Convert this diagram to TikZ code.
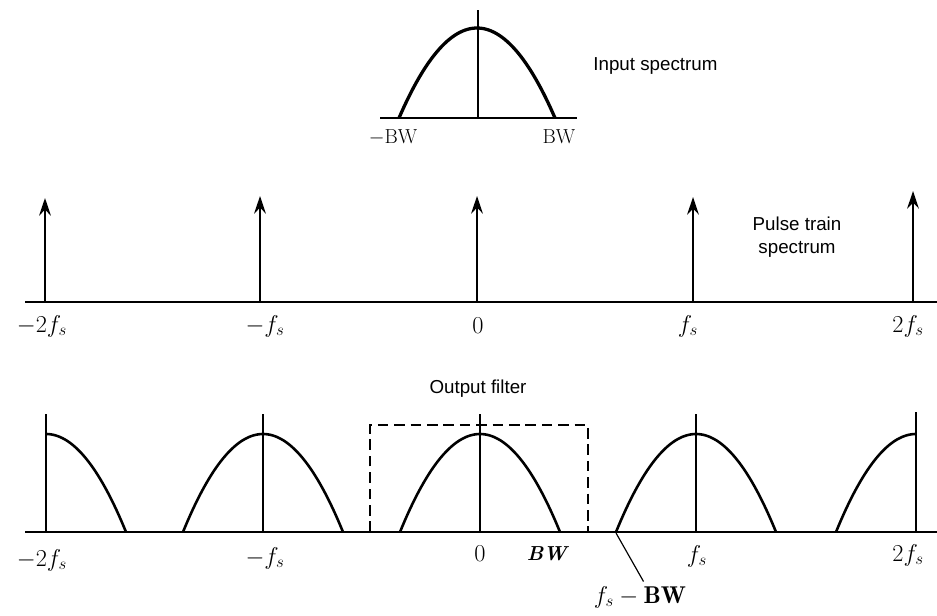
\documentclass[tikz,border=0pt]{standalone}
\usepackage{fontspec}
\setsansfont{Liberation Sans}
\usetikzlibrary{arrows.meta}
\tikzset{
  axisline/.style={line width=1.9pt},
  hump/.style={line width=2.2pt,samples=60,smooth},
  pulse/.style={line width=1.5pt,-{Stealth[length=15pt,width=10pt,inset=5pt]}},
  marker/.style={line width=1.3pt},
  lbl/.style={font=\huge,inner sep=1pt},
  caption/.style={font=\sffamily\fontsize{16}{20}\selectfont,align=center,inner sep=1pt},
}
\begin{document}
\begin{tikzpicture}[x=0.03cm,y=-0.03cm]
  \useasboundingbox (0,0) rectangle (937,615);
  % input spectrum
  \draw[axisline] (380,118) -- (577,118);
  \draw[marker] (478,118) -- (478,10);
  \draw[hump,line width=2.8pt,domain=-1:1] plot ({477+78*\x},{118-90*(1-\x*\x)});
  \node[lbl,font=\LARGE] (inlo) at (393,137) {$-$BW};
  \node[lbl,font=\LARGE] (inhi) at (559,137) {BW};
  \node[caption,anchor=west] (incap) at (592,66) {Input spectrum};
  % pulse train spectrum
  \draw[axisline] (25,302) -- (937,302);
  \foreach \px/\tip/\name in {45/198/ma,260/196/mb,477/196/z,693/197/pa,913/191/pb}{
    \coordinate (\name foot) at (\px,302);
    \coordinate (\name tip) at (\px,\tip);
    \draw[pulse] (\name foot) -- (\name tip);
  }
  \node[lbl] (pma) at (42,326) {$-2f_s$};
  \node[lbl] (pmb) at (265,326) {$-f_s$};
  \node[lbl] (pz) at (478,326) {$0$};
  \node[lbl] (ppa) at (688,326) {$f_s$};
  \node[lbl] (ppb) at (908,326) {$2f_s$};
  \node[caption] (pcap) at (797,237) {Pulse train\\spectrum};
  % output spectrum
  \draw[axisline] (25,532) -- (937,532);
  \foreach \cx in {263,480,696}{
    \draw[marker] (\cx,532) -- (\cx,414);
    \draw[hump,domain=-1:1] plot ({\cx+80*\x},{532-98*(1-\x*\x)});
  }
  \draw[marker] (46,532) -- (46,414);
  \draw[hump,domain=0:1] plot ({46+80*\x},{532-98*(1-\x*\x)});
  \draw[marker] (916,532) -- (916,412);
  \draw[hump,domain=-1:0] plot ({916+80*\x},{532-98*(1-\x*\x)});
  \draw[line width=1.6pt,dash pattern=on 9pt off 5pt]
    (370,532) -- (370,425) -- (588,425) -- (588,532);
  \node[caption] (ocap) at (478,389) {Output filter};
  \node[lbl] (oma) at (42,560) {$-2f_s$};
  \node[lbl] (omb) at (265,558) {$-f_s$};
  \node[lbl] (oz) at (480,554) {$0$};
  \node[lbl,font=\LARGE] (obw) at (548,554) {\textbf{\textit{BW}}};
  \node[lbl] (opa) at (697,556) {$f_s$};
  \node[lbl] (opb) at (908,555) {$2f_s$};
  \coordinate (gap) at (616,533);
  \node[lbl,anchor=north] (ogap) at (640,585) {$f_s-\mathbf{BW}$};
  \draw[line width=1pt] (gap) -- ([xshift=3pt,yshift=3pt]ogap.north);
\end{tikzpicture}
\end{document}
